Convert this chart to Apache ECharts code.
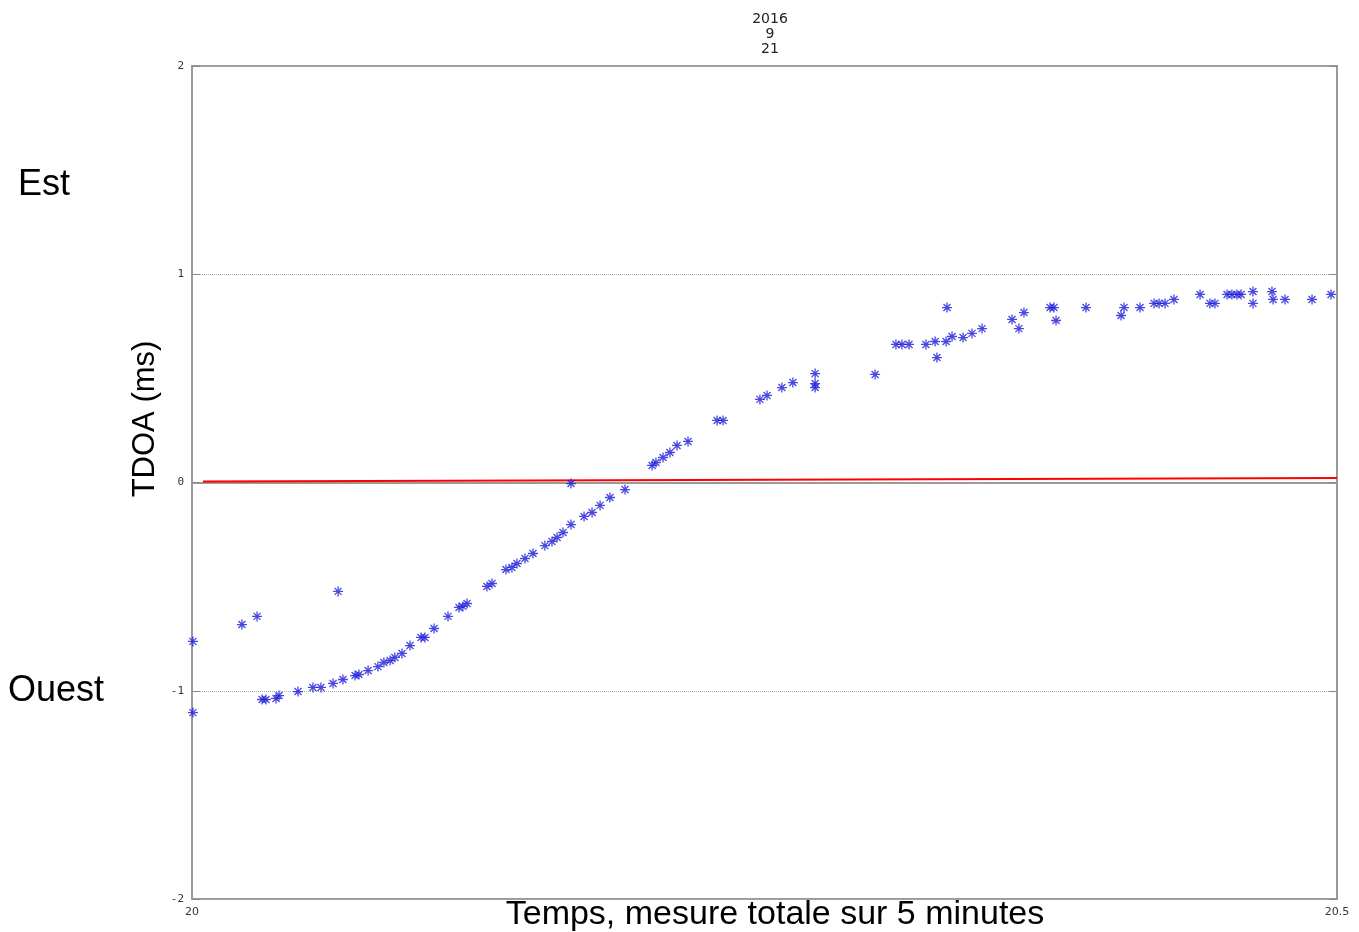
<!DOCTYPE html>
<html>
<head>
<meta charset="utf-8">
<title>TDOA</title>
<script src="https://cdn.jsdelivr.net/npm/echarts@6/dist/echarts.min.js"></script>
<style>
  html, body { margin: 0; padding: 0; background: #fff; }
  #chart { width: 1359px; height: 932px; }
</style>
</head>
<body>
<div id="chart"></div>
<script>
// temps (x) et TDOA en ms (y)
const timeVals = [
  20.0004, 20.0004, 20.0218, 20.0284, 20.0638, 20.0306, 20.0323, 20.0367, 20.0380, 20.0463,
  20.0528, 20.0563, 20.0616, 20.0659, 20.0712, 20.0729, 20.0769, 20.0812, 20.0838, 20.0865,
  20.0886, 20.0917, 20.0952, 20.1000, 20.1017, 20.1057, 20.1118, 20.1166, 20.1183, 20.1201,
  20.1288, 20.1310, 20.1371, 20.1397, 20.1419, 20.1454, 20.1489, 20.1541, 20.1572, 20.1594,
  20.1620, 20.1655, 20.1655, 20.1712, 20.1747, 20.1782, 20.1825, 20.1891, 20.2009, 20.2026,
  20.2057, 20.2087, 20.2118, 20.2166, 20.2293, 20.2319, 20.2480, 20.2511, 20.2576, 20.2624,
  20.2721, 20.2721, 20.2721, 20.2983, 20.3074, 20.3100, 20.3131, 20.3205, 20.3245, 20.3253,
  20.3293, 20.3297, 20.3319, 20.3367, 20.3406, 20.3450, 20.3581, 20.3611, 20.3633, 20.3747,
  20.3764, 20.3773, 20.3904, 20.4057, 20.4070, 20.4140, 20.4201, 20.4223, 20.4249, 20.4288,
  20.4402, 20.4445, 20.4467, 20.4520, 20.4541, 20.4563, 20.4581, 20.4633, 20.4633, 20.4716,
  20.4721, 20.4773, 20.4891, 20.4974
];
const tdoaVals = [
  -0.763, -1.105, -0.682, -0.643, -0.523, -1.042, -1.042, -1.037, -1.023, -1.004,
  -0.984, -0.984, -0.965, -0.946, -0.927, -0.922, -0.903, -0.884, -0.864, -0.855,
  -0.840, -0.821, -0.783, -0.744, -0.744, -0.701, -0.643, -0.600, -0.595, -0.581,
  -0.499, -0.485, -0.418, -0.408, -0.389, -0.365, -0.341, -0.303, -0.283, -0.264,
  -0.240, -0.202, -0.005, -0.163, -0.144, -0.110, -0.072, -0.034, 0.082, 0.096,
  0.120, 0.144, 0.178, 0.197, 0.298, 0.298, 0.399, 0.418, 0.456, 0.480,
  0.523, 0.475, 0.456, 0.519, 0.663, 0.663, 0.663, 0.663, 0.677, 0.600,
  0.677, 0.840, 0.701, 0.696, 0.716, 0.739, 0.783, 0.739, 0.816, 0.840,
  0.840, 0.778, 0.840, 0.802, 0.840, 0.840, 0.860, 0.860, 0.860, 0.879,
  0.903, 0.860, 0.860, 0.903, 0.903, 0.903, 0.903, 0.917, 0.860, 0.917,
  0.879, 0.879, 0.879, 0.903
];
// ligne rouge (reference ~0)
const refLineX = [20.0048, 20.5];
const refLineY = [0.005, 0.022];
const titleLines = ['2016', '9', '21'];

const points = timeVals.map((t, i) => [t, tdoaVals[i]]);
const refLine = refLineX.map((t, i) => [t, refLineY[i]]);

// symbole asterisque (trace au contour)
const starPath = 'path://M0,5L10,5M5,0L5,10M1.5,1.5L8.5,8.5M8.5,1.5L1.5,8.5';

const chart = echarts.init(document.getElementById('chart'));
chart.setOption({
  animation: false,
  backgroundColor: '#fff',
  title: {
    text: titleLines.join('\n'),
    left: 765,
    top: 7,
    textAlign: 'center',
    textStyle: {
      fontFamily: 'DejaVu Sans',
      fontSize: 14,
      fontWeight: 'normal',
      color: '#222',
      lineHeight: 15
    }
  },
  grid: {
    left: 192,
    right: 22,
    top: 66,
    bottom: 33,
    outerBoundsMode: 'none',
    containLabel: false,
    show: true,
    borderColor: '#9a9a9a',
    borderWidth: 2
  },
  xAxis: {
    type: 'value',
    min: 20,
    max: 20.5,
    interval: 0.5,
    axisLine: { show: true, lineStyle: { color: '#9a9a9a', width: 2 } },
    axisTick: { show: false },
    splitLine: { show: false },
    axisLabel: {
      fontFamily: 'DejaVu Sans',
      fontSize: 11,
      color: '#333',
      margin: 8,
      formatter: v => String(v)
    }
  },
  yAxis: [
    {
      type: 'value',
      min: -2,
      max: 2,
      interval: 1,
      axisLine: { show: true, lineStyle: { color: '#9a9a9a', width: 2 } },
      axisTick: { show: true, inside: true, length: 8, lineStyle: { color: '#888' } },
      splitLine: { show: true, lineStyle: { color: '#aaa', type: 'dotted', width: 1 } },
      axisLabel: {
        fontFamily: 'DejaVu Sans Mono',
        fontSize: 11,
        color: '#333',
        margin: 8
      }
    },
    {
      type: 'value',
      position: 'right',
      min: -2,
      max: 2,
      interval: 1,
      axisLine: { show: true, lineStyle: { color: '#9a9a9a', width: 2 } },
      axisTick: { show: true, inside: true, length: 8, lineStyle: { color: '#888' } },
      splitLine: { show: false },
      axisLabel: { show: false }
    }
  ],
  graphic: [
    {
      type: 'text',
      x: 18,
      y: 185,
      style: { text: 'Est', font: '36px "Liberation Sans"', fill: '#000', verticalAlign: 'middle' }
    },
    {
      type: 'text',
      x: 8,
      y: 691,
      style: { text: 'Ouest', font: '36px "Liberation Sans"', fill: '#000', verticalAlign: 'middle' }
    },
    {
      type: 'text',
      x: 145,
      y: 419,
      rotation: Math.PI / 2,
      style: { text: 'TDOA (ms)', font: '31px "Liberation Sans"', fill: '#000', align: 'center', verticalAlign: 'middle' }
    },
    {
      type: 'text',
      x: 775,
      y: 915,
      style: { text: 'Temps, mesure totale sur 5 minutes', font: '34px "Liberation Sans"', fill: '#000', align: 'center', verticalAlign: 'middle' }
    }
  ],
  series: [
    {
      type: 'line',
      data: refLine,
      symbol: 'none',
      lineStyle: { color: '#ff0000', width: 2 },
      z: 1
    },
    {
      type: 'scatter',
      yAxisIndex: 0,
      data: points,
      symbol: starPath,
      symbolSize: 10,
      itemStyle: {
        color: 'none',
        borderColor: '#1a1ad8',
        borderWidth: 1.3
      },
      z: 3
    }
  ]
});
</script>
</body>
</html>
